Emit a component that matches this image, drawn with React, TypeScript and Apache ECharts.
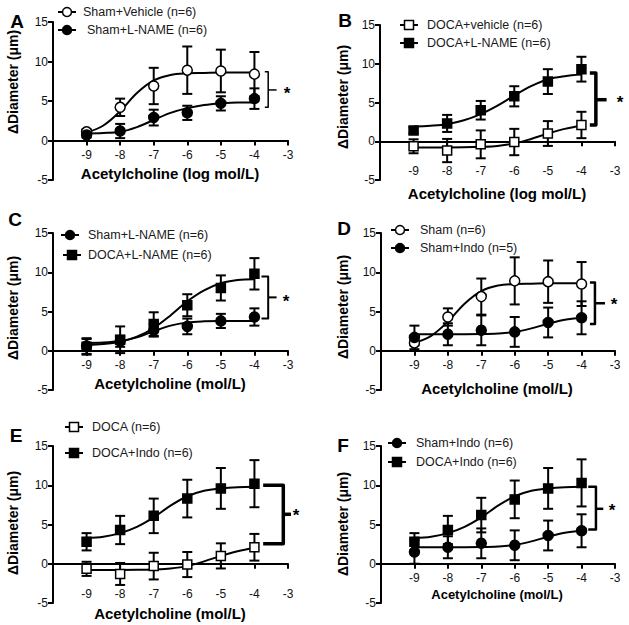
import React, { useEffect, useRef } from 'react';
import * as echarts from 'echarts';

const FONT = '"Liberation Sans", Arial, Helvetica, sans-serif';

// ---- shared axes ----
const doses = [-9, -8, -7, -6, -5, -4];
const curveX = [-9, -8.5, -8, -7.5, -7, -6.5, -6, -5.5, -5, -4.5, -4];
const xTickLabels = ['-9', '-8', '-7', '-6', '-5', '-4', '-3'];
const yTickLabels = ['-5', '0', '5', '10', '15'];

// ---- Panel A ----
const aShamVehMean = [1.1, 4.2, 6.9, 8.9, 8.8, 8.4];
const aShamVehSem = [0.3, 1.1, 2.3, 3.0, 2.7, 2.8];
const aShamVehCurve = [1.0, 1.9, 3.7, 6.0, 7.6, 8.3, 8.5, 8.55, 8.6, 8.6, 8.6];
const aShamLnMean = [0.7, 1.2, 2.9, 3.5, 4.7, 5.3];
const aShamLnSem = [0.3, 0.9, 1.0, 0.9, 0.9, 1.3];
const aShamLnCurve = [0.9, 0.95, 1.1, 1.7, 2.6, 3.5, 4.1, 4.5, 4.7, 4.8, 4.8];

// ---- Panel B ----
const bDocaVehMean = [-0.65, -1.2, -0.4, -0.1, 1.0, 2.1];
const bDocaVehSem = [0.9, 1.5, 1.8, 1.7, 1.6, 1.7];
const bDocaVehCurve = [-0.8, -0.8, -0.8, -0.78, -0.72, -0.6, -0.3, 0.3, 1.0, 1.6, 2.0];
const bDocaLnMean = [1.4, 2.3, 4.0, 5.8, 7.7, 9.3];
const bDocaLnSem = [0.4, 1.1, 1.2, 1.3, 1.6, 1.6];
const bDocaLnCurve = [1.9, 2.0, 2.2, 2.7, 3.5, 4.6, 5.9, 7.1, 8.0, 8.4, 8.6];

// ---- Panel C ----
const cShamLnMean = [0.6, 1.2, 2.6, 3.1, 3.8, 4.3];
const cShamLnSem = [1.0, 0.7, 0.8, 1.0, 0.9, 1.1];
const cShamLnCurve = [1.0, 1.05, 1.25, 1.7, 2.5, 3.2, 3.6, 3.75, 3.8, 3.8, 3.8];
const cDocaLnMean = [0.5, 1.4, 3.4, 5.8, 8.0, 9.8];
const cDocaLnSem = [1.0, 1.7, 1.5, 1.4, 1.6, 2.0];
const cDocaLnCurve = [0.75, 0.85, 1.15, 1.8, 2.9, 4.5, 6.3, 7.7, 8.6, 9.0, 9.1];

// ---- Panel D ----
const dShamMean = [1.0, 4.3, 6.9, 8.9, 8.8, 8.5];
const dShamSem = [0.3, 1.1, 2.3, 3.0, 2.7, 2.8];
const dShamCurve = [1.0, 1.9, 3.7, 6.0, 7.6, 8.3, 8.5, 8.55, 8.6, 8.6, 8.6];
const dShamIndoMean = [1.7, 2.1, 2.6, 2.4, 3.6, 4.2];
const dShamIndoSem = [1.5, 1.4, 1.9, 1.9, 1.9, 2.1];
const dShamIndoCurve = [2.1, 2.1, 2.1, 2.1, 2.12, 2.2, 2.4, 2.85, 3.45, 3.95, 4.2];

// ---- Panel E ----
const eDocaMean = [-0.65, -1.3, -0.3, -0.1, 1.0, 2.1];
const eDocaSem = [0.9, 1.4, 1.7, 1.6, 1.6, 1.7];
const eDocaCurve = [-0.8, -0.8, -0.8, -0.78, -0.72, -0.6, -0.3, 0.3, 1.0, 1.6, 2.0];
const eDocaIndoMean = [2.8, 4.3, 6.1, 8.3, 9.6, 10.2];
const eDocaIndoSem = [1.1, 1.8, 2.2, 2.4, 2.6, 3.0];
const eDocaIndoCurve = [3.3, 3.45, 3.9, 4.7, 5.9, 7.4, 8.6, 9.3, 9.6, 9.75, 9.8];

// ---- Panel F ----
const fShamIndoMean = [1.5, 2.1, 2.6, 2.35, 3.6, 4.2];
const fShamIndoSem = [1.5, 1.4, 1.9, 1.9, 1.9, 2.1];
const fShamIndoCurve = [2.1, 2.1, 2.1, 2.1, 2.12, 2.2, 2.4, 2.85, 3.45, 3.95, 4.2];
const fDocaIndoMean = [2.8, 4.3, 6.2, 8.2, 9.6, 10.3];
const fDocaIndoSem = [1.1, 1.8, 2.2, 2.4, 2.6, 3.0];
const fDocaIndoCurve = [3.3, 3.45, 3.9, 4.7, 5.9, 7.4, 8.6, 9.3, 9.6, 9.75, 9.8];

// brackets: [armX, vertX, top, bottom, mid, tickEndX]
const aBracket = [-3.69, -3.59, 8.7, 4.2, 6.4, -3.34];
const bBracket = [-3.75, -3.57, 8.8, 2.1, 5.36, -3.25];
const cBracket = [-3.79, -3.59, 9.45, 4.1, 6.8, -3.34];
const dBracket = [-3.75, -3.6, 8.7, 3.4, 6.05, -3.3];
const eBracket = [-3.74, -3.14, 10.0, 2.55, 6.3, -2.84];
const fBracket = [-3.8, -3.57, 9.8, 4.35, 7.0, -3.35];

type Group = { name: string; mean: number[]; sem: number[]; curve: number[]; symbol: 'circle' | 'rect'; filled: boolean; legendText: [number, number]; legendSym: [number, number] };

const panels = [
  {
    letter: 'A', letterPos: [17, 21], grid: [53, 22, 235, 158], labelMargin: 8,
    xTitle: 'Acetylcholine (log mol/L)', xTitlePos: [170, 173], xTitleSize: 15,
    yTitlePos: [13, 82], star: [287, 91], bracket: aBracket, bw: 1.5,
    groups: [
      { name: 'Sham+Vehicle (n=6)', mean: aShamVehMean, sem: aShamVehSem, curve: aShamVehCurve, symbol: 'circle', filled: false, legendSym: [67, 12], legendText: [83, 12] },
      { name: 'Sham+L-NAME (n=6)', mean: aShamLnMean, sem: aShamLnSem, curve: aShamLnCurve, symbol: 'circle', filled: true, legendSym: [67, 30], legendText: [87, 30] },
    ] as Group[],
  },
  {
    letter: 'B', letterPos: [345, 20], grid: [380, 25, 235, 155], labelMargin: 24,
    xTitle: 'Acetylcholine (log mol/L)', xTitlePos: [497, 193], xTitleSize: 15,
    yTitlePos: [343, 97], star: [620, 100], bracket: bBracket, bw: 3.5,
    groups: [
      { name: 'DOCA+vehicle (n=6)', mean: bDocaVehMean, sem: bDocaVehSem, curve: bDocaVehCurve, symbol: 'rect', filled: false, legendSym: [409, 25], legendText: [427, 25] },
      { name: 'DOCA+L-NAME (n=6)', mean: bDocaLnMean, sem: bDocaLnSem, curve: bDocaLnCurve, symbol: 'rect', filled: true, legendSym: [409, 43], legendText: [427, 43] },
    ] as Group[],
  },
  {
    letter: 'C', letterPos: [15, 219], grid: [53, 233, 235, 157], labelMargin: 8,
    xTitle: 'Acetylcholine (mol/L)', xTitlePos: [170, 383], xTitleSize: 15,
    yTitlePos: [13, 308], star: [286, 299], bracket: cBracket, bw: 2,
    groups: [
      { name: 'Sham+L-NAME (n=6)', mean: cShamLnMean, sem: cShamLnSem, curve: cShamLnCurve, symbol: 'circle', filled: true, legendSym: [70, 235], legendText: [88, 235] },
      { name: 'DOCA+L-NAME (n=6)', mean: cDocaLnMean, sem: cDocaLnSem, curve: cDocaLnCurve, symbol: 'rect', filled: true, legendSym: [72, 255], legendText: [88, 255] },
    ] as Group[],
  },
  {
    letter: 'D', letterPos: [344, 228], grid: [381, 233, 234, 157], labelMargin: 8,
    xTitle: 'Acetylcholine (mol/L)', xTitlePos: [497, 388], xTitleSize: 15,
    yTitlePos: [343, 307], star: [614, 302], bracket: dBracket, bw: 2.5,
    groups: [
      { name: 'Sham (n=6)', mean: dShamMean, sem: dShamSem, curve: dShamCurve, symbol: 'circle', filled: false, legendSym: [400, 230], legendText: [420, 230] },
      { name: 'Sham+Indo (n=5)', mean: dShamIndoMean, sem: dShamIndoSem, curve: dShamIndoCurve, symbol: 'circle', filled: true, legendSym: [400, 248], legendText: [420, 248] },
    ] as Group[],
  },
  {
    letter: 'E', letterPos: [16, 435], grid: [53, 446, 235, 157], labelMargin: 24,
    xTitle: 'Acetylcholine (mol/L)', xTitlePos: [170, 613], xTitleSize: 15,
    yTitlePos: [13, 523], star: [296, 513], bracket: eBracket, bw: 3.5,
    groups: [
      { name: 'DOCA (n=6)', mean: eDocaMean, sem: eDocaSem, curve: eDocaCurve, symbol: 'rect', filled: false, legendSym: [74, 427], legendText: [92, 427] },
      { name: 'DOCA+Indo (n=6)', mean: eDocaIndoMean, sem: eDocaIndoSem, curve: eDocaIndoCurve, symbol: 'rect', filled: true, legendSym: [74, 453], legendText: [92, 453] },
    ] as Group[],
  },
  {
    letter: 'F', letterPos: [343, 445], grid: [381, 446, 234, 157], labelMargin: 8,
    xTitle: 'Acetylcholine (mol/L)', xTitlePos: [497, 594], xTitleSize: 13,
    yTitlePos: [343, 524], star: [612, 508], bracket: fBracket, bw: 2.5,
    groups: [
      { name: 'Sham+Indo (n=6)', mean: fShamIndoMean, sem: fShamIndoSem, curve: fShamIndoCurve, symbol: 'circle', filled: true, legendSym: [397, 443], legendText: [416, 443] },
      { name: 'DOCA+Indo (n=6)', mean: fDocaIndoMean, sem: fDocaIndoSem, curve: fDocaIndoCurve, symbol: 'rect', filled: true, legendSym: [397, 462], legendText: [416, 462] },
    ] as Group[],
  },
];

function errRender(params: any, api: any) {
  const x = api.value(0);
  const lo = api.coord([x, api.value(1)]);
  const hi = api.coord([x, api.value(2)]);
  const w = 5;
  const st = { stroke: '#000', lineWidth: 2 };
  return {
    type: 'group',
    children: [
      { type: 'line', shape: { x1: lo[0], y1: lo[1], x2: hi[0], y2: hi[1] }, style: st },
      { type: 'line', shape: { x1: hi[0] - w, y1: hi[1], x2: hi[0] + w, y2: hi[1] }, style: st },
      { type: 'line', shape: { x1: lo[0] - w, y1: lo[1], x2: lo[0] + w, y2: lo[1] }, style: st },
    ],
  };
}

function buildOption() {
  const grid: any[] = [];
  const xAxis: any[] = [];
  const yAxis: any[] = [];
  const series: any[] = [];
  const graphic: any[] = [];

  panels.forEach((p, i) => {
    grid.push({ left: p.grid[0], top: p.grid[1], width: p.grid[2], height: p.grid[3], outerBoundsMode: 'none', containLabel: false });
    xAxis.push({
      gridIndex: i, type: 'value', min: -10, max: -3, interval: 1, position: 'bottom',
      // y range is -5..15, so the zero line sits a quarter of the height above the bottom
      offset: -p.grid[3] / 4,
      axisLine: { onZero: false, lineStyle: { color: '#000', width: 2 } },
      axisTick: { show: true, length: 5, lineStyle: { color: '#000', width: 2 } },
      axisLabel: {
        margin: p.labelMargin, fontSize: 12, color: '#111', fontFamily: FONT,
        formatter: (v: number) => (xTickLabels.indexOf(String(v)) >= 0 ? String(v) : ''),
      },
      splitLine: { show: false },
    });
    yAxis.push({
      gridIndex: i, type: 'value', min: -5, max: 15, interval: 5,
      axisLine: { show: true, onZero: false, lineStyle: { color: '#000', width: 2 } },
      axisTick: { show: true, length: 5, lineStyle: { color: '#000', width: 2 } },
      axisLabel: {
        margin: 5, fontSize: 12, color: '#111', fontFamily: FONT,
        formatter: (v: number) => (yTickLabels.indexOf(String(v)) >= 0 ? String(v) : ''),
      },
      splitLine: { show: false },
    });

    p.groups.forEach((g) => {
      series.push({
        type: 'custom', xAxisIndex: i, yAxisIndex: i, renderItem: errRender, z: 2, silent: true,
        encode: { x: 0, y: [1, 2] },
        data: doses.map((d, k) => [d, g.mean[k] - g.sem[k], g.mean[k] + g.sem[k]]),
      });
      series.push({
        type: 'line', xAxisIndex: i, yAxisIndex: i, smooth: 0.35, symbol: 'none', z: 3, silent: true,
        lineStyle: { color: '#000', width: 2 },
        data: curveX.map((x, k) => [x, g.curve[k]]),
      });
      series.push({
        type: 'scatter', name: g.name, xAxisIndex: i, yAxisIndex: i, symbol: g.symbol,
        symbolSize: g.symbol === 'circle' ? 10 : 9, z: 4, silent: true,
        itemStyle: { color: g.filled ? '#000' : '#fff', borderColor: '#000', borderWidth: 1.5, opacity: 1 },
        data: doses.map((d, k) => [d, g.mean[k]]),
      });
      const [sx, sy] = g.legendSym;
      const fill = g.filled ? '#000' : '#fff';
      graphic.push({ type: 'line', shape: { x1: sx - 9, y1: sy, x2: sx + 9, y2: sy }, style: { stroke: '#000', lineWidth: 2 } });
      if (g.symbol === 'circle') {
        graphic.push({ type: 'circle', shape: { cx: sx, cy: sy, r: 4.5 }, style: { fill, stroke: '#000', lineWidth: 1.5 } });
      } else {
        graphic.push({ type: 'rect', shape: { x: sx - 4.5, y: sy - 4.5, width: 9, height: 9 }, style: { fill, stroke: '#000', lineWidth: 1.5 } });
      }
      graphic.push({
        type: 'text', x: g.legendText[0], y: g.legendText[1],
        style: { text: g.name, fontSize: 12.5, fontFamily: FONT, fill: '#1a1a1a', align: 'left', verticalAlign: 'middle' },
      });
    });

    const [armX, vx, top, bot, mid, tickX] = p.bracket;
    series.push({
      type: 'line', xAxisIndex: i, yAxisIndex: i, symbol: 'none', z: 3, silent: true, clip: false,
      lineStyle: { color: '#000', width: p.bw, join: 'round' }, data: [[armX, top], [vx, top], [vx, bot], [armX, bot]],
    });
    series.push({
      type: 'line', xAxisIndex: i, yAxisIndex: i, symbol: 'none', z: 3, silent: true, clip: false,
      lineStyle: { color: '#000', width: p.bw }, data: [[vx, mid], [tickX, mid]],
    });

    graphic.push({
      type: 'text', x: p.star[0], y: p.star[1] + 2,
      style: { text: '*', fontSize: 17, fontWeight: 'bold', fontFamily: FONT, fill: '#000', align: 'center', verticalAlign: 'middle' },
    });
    graphic.push({
      type: 'text', x: p.letterPos[0], y: p.letterPos[1],
      style: { text: p.letter, fontSize: 19, fontWeight: 'bold', fontFamily: FONT, fill: '#000', align: 'center', verticalAlign: 'middle' },
    });
    graphic.push({
      type: 'text', x: p.xTitlePos[0], y: p.xTitlePos[1],
      style: { text: p.xTitle, fontSize: p.xTitleSize, fontWeight: 'bold', fontFamily: FONT, fill: '#000', align: 'center', verticalAlign: 'middle' },
    });
    graphic.push({
      type: 'text', x: p.yTitlePos[0], y: p.yTitlePos[1], rotation: Math.PI / 2,
      style: { text: 'ΔDiameter (μm)', fontSize: 14, fontWeight: 'bold', fontFamily: FONT, fill: '#000', align: 'center', verticalAlign: 'middle' },
    });
  });

  return { animation: false, backgroundColor: '#fff', grid, xAxis, yAxis, series, graphic };
}

export default function App() {
  const ref = useRef<HTMLDivElement>(null);
  useEffect(() => {
    if (!ref.current) return;
    const chart = echarts.init(ref.current, undefined, { renderer: 'svg' });
    chart.setOption(buildOption() as any);
    return () => chart.dispose();
  }, []);
  return <div ref={ref} style={{ position: 'absolute', left: 0, top: 0, width: 629, height: 625, background: '#fff' }} />;
}
